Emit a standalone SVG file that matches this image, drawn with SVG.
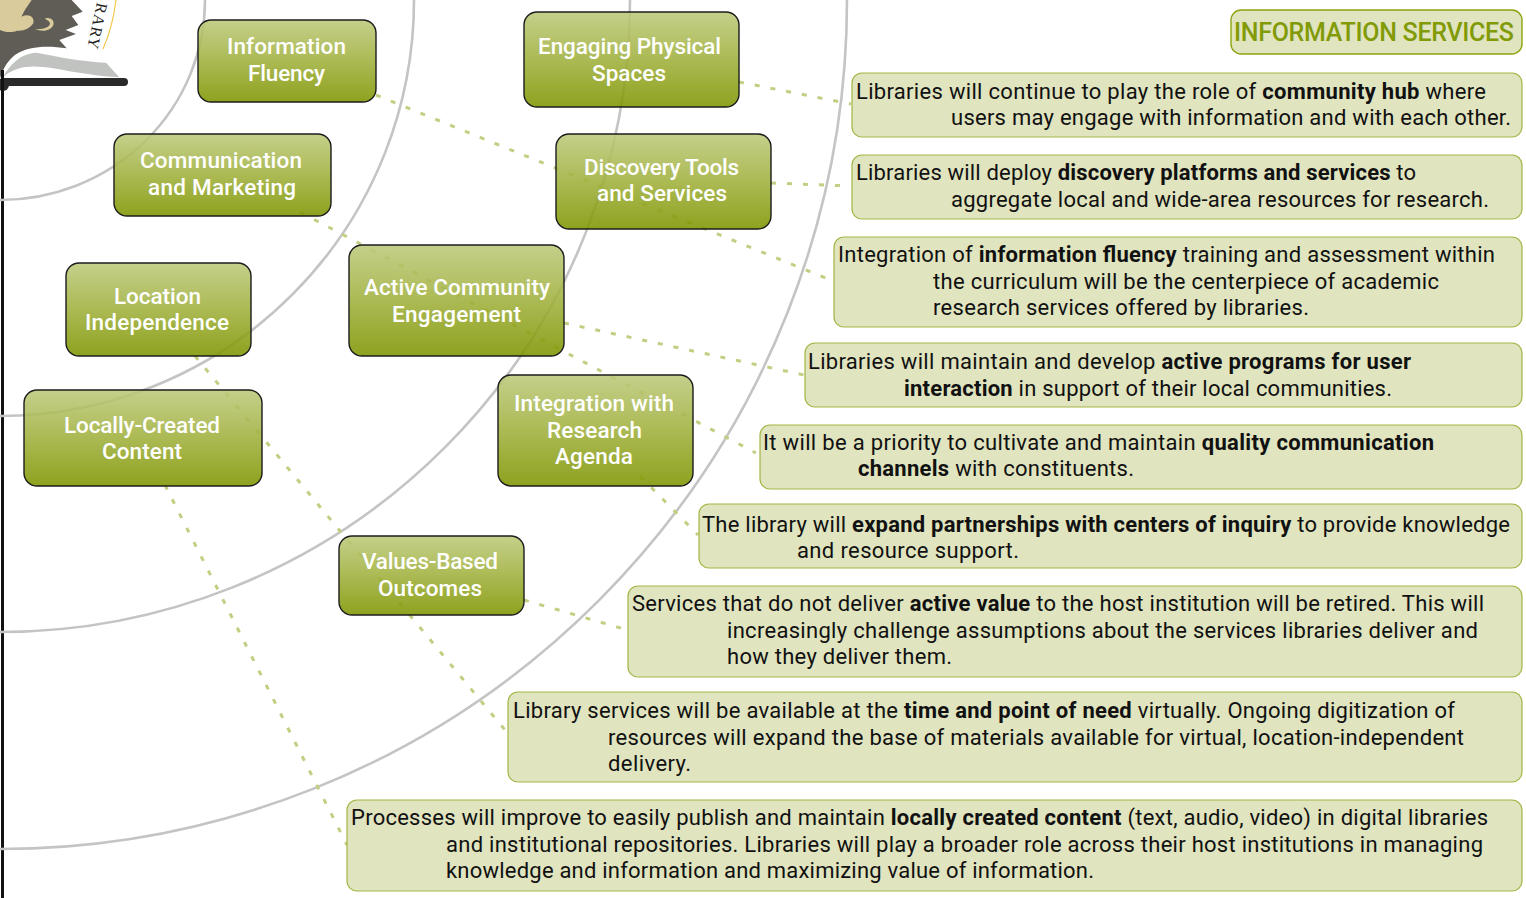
<svg xmlns="http://www.w3.org/2000/svg" width="1526" height="898" viewBox="0 0 1526 898">
<style>
.arc{fill:none;stroke:#c4c4c4;stroke-width:2.6}
.con{fill:none;stroke:#c2cf82;stroke-width:3;stroke-dasharray:5 11}
.node{fill:url(#g);stroke:#1c1c1c;stroke-width:1.4;fill-opacity:.88}
.nt{font-family:"Roboto","Liberation Sans",sans-serif;font-weight:500;font-size:22.5px;fill:#fff}
.box{fill:#e0e4bf;stroke:#a3b544;stroke-width:1.2}
.t{font-family:"Roboto","Liberation Sans",sans-serif;font-size:22px;fill:#111}
.t tspan{font-weight:700}
</style>
<defs>
<linearGradient id="g" x1="0" y1="0" x2="0" y2="1"><stop offset="0" stop-color="#bcc97a"/><stop offset=".5" stop-color="#a0b03c"/><stop offset="1" stop-color="#7f9500"/></linearGradient>
</defs>
<g id="logo">
<g transform="scale(.3333)">
<path d="M0,0H215L248,35 215,48 235,75 197,90 228,102 178,120 200,145C150,138 90,135 45,165C20,185 8,210 0,235Z" fill="#5f5d55"/>
<path d="M0,0H95C85,15 70,35 65,50C85,40 105,50 100,70C90,85 70,95 50,92C35,100 10,95 0,90Z" fill="#d9cb9c"/>
<path d="M135,55C150,50 165,60 160,75C150,95 125,95 105,88C125,88 145,85 150,72C150,62 140,62 135,55Z" fill="#d9cb9c"/>
<path d="M8,232C30,195 60,160 110,158C170,170 250,185 318,188L358,232C300,230 230,218 160,205C100,195 50,195 8,232Z" fill="#c1c3c0"/>
</g>
<text transform="translate(97,2) rotate(102)" font-family="Liberation Serif,serif" font-size="16" fill="#222" letter-spacing="1">RARY</text>
<path d="M116,0Q113,26 103,49" fill="none" stroke="#f2c84b" stroke-width="1.2"/>
<line x1="3" y1="82" x2="124" y2="82" stroke="#2a2a2a" stroke-width="8" stroke-linecap="round"/>
<circle cx="3" cy="85" r="6" fill="#2a2a2a"/>
<line x1="2.5" y1="70" x2="2.5" y2="898" stroke="#111" stroke-width="3"/>
</g>
<g id="arcs">
<path class="arc" d="M205,0A205,200 0 0 1 0,200"/>
<path class="arc" d="M414,0A414,416 0 0 1 0,416"/>
<path class="arc" d="M630,0A630,632 0 0 1 0,632"/>
<path class="arc" d="M847,0A847,849 0 0 1 0,849"/>
</g>
<g id="connectors">
<line class="con" x1="739" y1="82" x2="851" y2="104"/>
<line class="con" x1="771" y1="183" x2="851" y2="186"/>
<line class="con" x1="376" y1="95" x2="833" y2="281"/>
<line class="con" x1="564" y1="323" x2="804" y2="375"/>
<line class="con" x1="300" y1="212" x2="756" y2="453"/>
<line class="con" x1="640" y1="476" x2="698" y2="535"/>
<line class="con" x1="195" y1="356" x2="505" y2="730"/>
<line class="con" x1="524" y1="600" x2="624" y2="629"/>
<line class="con" x1="165" y1="485" x2="347" y2="845"/>
</g>
<g id="node-information-fluency"><rect class="node" x="198" y="20" width="178" height="82" rx="13"/><text class="nt" x="227" y="54" textLength="119">Information</text><text class="nt" x="248" y="81" textLength="77">Fluency</text></g>
<g id="node-communication"><rect class="node" x="114" y="134" width="217" height="82" rx="13"/><text class="nt" x="140" y="168" textLength="162">Communication</text><text class="nt" x="148" y="195" textLength="148">and Marketing</text></g>
<g id="node-location"><rect class="node" x="66" y="263" width="185" height="93" rx="13"/><text class="nt" x="114" y="304" textLength="87">Location</text><text class="nt" x="85" y="330" textLength="144">Independence</text></g>
<g id="node-locally-created"><rect class="node" x="24" y="390" width="238" height="96" rx="13"/><text class="nt" x="64" y="433" textLength="156">Locally-Created</text><text class="nt" x="102" y="459" textLength="80">Content</text></g>
<g id="node-engaging"><rect class="node" x="524" y="12" width="215" height="95" rx="13"/><text class="nt" x="538" y="54" textLength="183">Engaging Physical</text><text class="nt" x="592" y="81" textLength="74">Spaces</text></g>
<g id="node-discovery"><rect class="node" x="556" y="134" width="215" height="95" rx="13"/><text class="nt" x="584" y="175" textLength="155">Discovery Tools</text><text class="nt" x="597" y="201" textLength="130">and Services</text></g>
<g id="node-active"><rect class="node" x="349" y="245" width="215" height="111" rx="13"/><text class="nt" x="364" y="295" textLength="186">Active Community</text><text class="nt" x="392" y="322" textLength="129">Engagement</text></g>
<g id="node-integration"><rect class="node" x="498" y="375" width="195" height="111" rx="13"/><text class="nt" x="514" y="411" textLength="160">Integration with</text><text class="nt" x="547" y="438" textLength="95">Research</text><text class="nt" x="555" y="464" textLength="78">Agenda</text></g>
<g id="node-values"><rect class="node" x="339" y="536" width="185" height="79" rx="13"/><text class="nt" x="362" y="569" textLength="136">Values-Based</text><text class="nt" x="378" y="596" textLength="104">Outcomes</text></g>
<g id="title"><rect x="1231" y="10" width="291" height="44" rx="10" fill="#e0e4bf" stroke="#8ea40f" stroke-width="1.4"/><text x="1234" y="41" textLength="280" font-family="Roboto,Liberation Sans,sans-serif" font-size="25" font-weight="500" fill="#819a06">INFORMATION SERVICES</text></g>
<g id="s1"><rect class="box" x="852" y="73" width="670" height="64" rx="10"/><text class="t" x="856" y="99" textLength="630">Libraries will continue to play the role of <tspan>community hub</tspan> where</text><text class="t" x="951" y="125" textLength="560">users may engage with information and with each other.</text></g>
<g id="s2"><rect class="box" x="852" y="155" width="670" height="64" rx="10"/><text class="t" x="856" y="180" textLength="560">Libraries will deploy <tspan>discovery platforms and services</tspan> to</text><text class="t" x="951" y="207" textLength="538">aggregate local and wide-area resources for research.</text></g>
<g id="s3"><rect class="box" x="834" y="237" width="688" height="90" rx="10"/><text class="t" x="838" y="262" textLength="657">Integration of <tspan>information fluency</tspan> training and assessment within</text><text class="t" x="933" y="289" textLength="506">the curriculum will be the centerpiece of academic</text><text class="t" x="933" y="315" textLength="376">research services offered by libraries.</text></g>
<g id="s4"><rect class="box" x="805" y="343" width="717" height="64" rx="10"/><text class="t" x="808" y="369" textLength="603">Libraries will maintain and develop <tspan>active programs for user</tspan></text><text class="t" x="904" y="396" textLength="488"><tspan>interaction</tspan> in support of their local communities.</text></g>
<g id="s5"><rect class="box" x="760" y="425" width="762" height="64" rx="10"/><text class="t" x="763" y="450" textLength="671">It will be a priority to cultivate and maintain <tspan>quality communication</tspan></text><text class="t" x="858" y="476" textLength="276"><tspan>channels</tspan> with constituents.</text></g>
<g id="s6"><rect class="box" x="699" y="504" width="823" height="64" rx="10"/><text class="t" x="702" y="532" textLength="808">The library will <tspan>expand partnerships with centers of inquiry</tspan> to provide knowledge</text><text class="t" x="797" y="558" textLength="222">and resource support.</text></g>
<g id="s7"><rect class="box" x="628" y="586" width="894" height="91" rx="10"/><text class="t" x="632" y="611" textLength="852">Services that do not deliver <tspan>active value</tspan> to the host institution will be retired. This will</text><text class="t" x="727" y="638" textLength="751">increasingly challenge assumptions about the services libraries deliver and</text><text class="t" x="727" y="664" textLength="225">how they deliver them.</text></g>
<g id="s8"><rect class="box" x="508" y="692" width="1014" height="90" rx="10"/><text class="t" x="513" y="718" textLength="942">Library services will be available at the <tspan>time and point of need</tspan> virtually. Ongoing digitization of</text><text class="t" x="608" y="745" textLength="856">resources will expand the base of materials available for virtual, location-independent</text><text class="t" x="608" y="771" textLength="83">delivery.</text></g>
<g id="s9"><rect class="box" x="347" y="800" width="1175" height="91" rx="10"/><text class="t" x="351" y="825" textLength="1137">Processes will improve to easily publish and maintain <tspan>locally created content</tspan> (text, audio, video) in digital libraries</text><text class="t" x="446" y="852" textLength="1037">and institutional repositories. Libraries will play a broader role across their host institutions in managing</text><text class="t" x="446" y="878" textLength="648">knowledge and information and maximizing value of information.</text></g>
</svg>
